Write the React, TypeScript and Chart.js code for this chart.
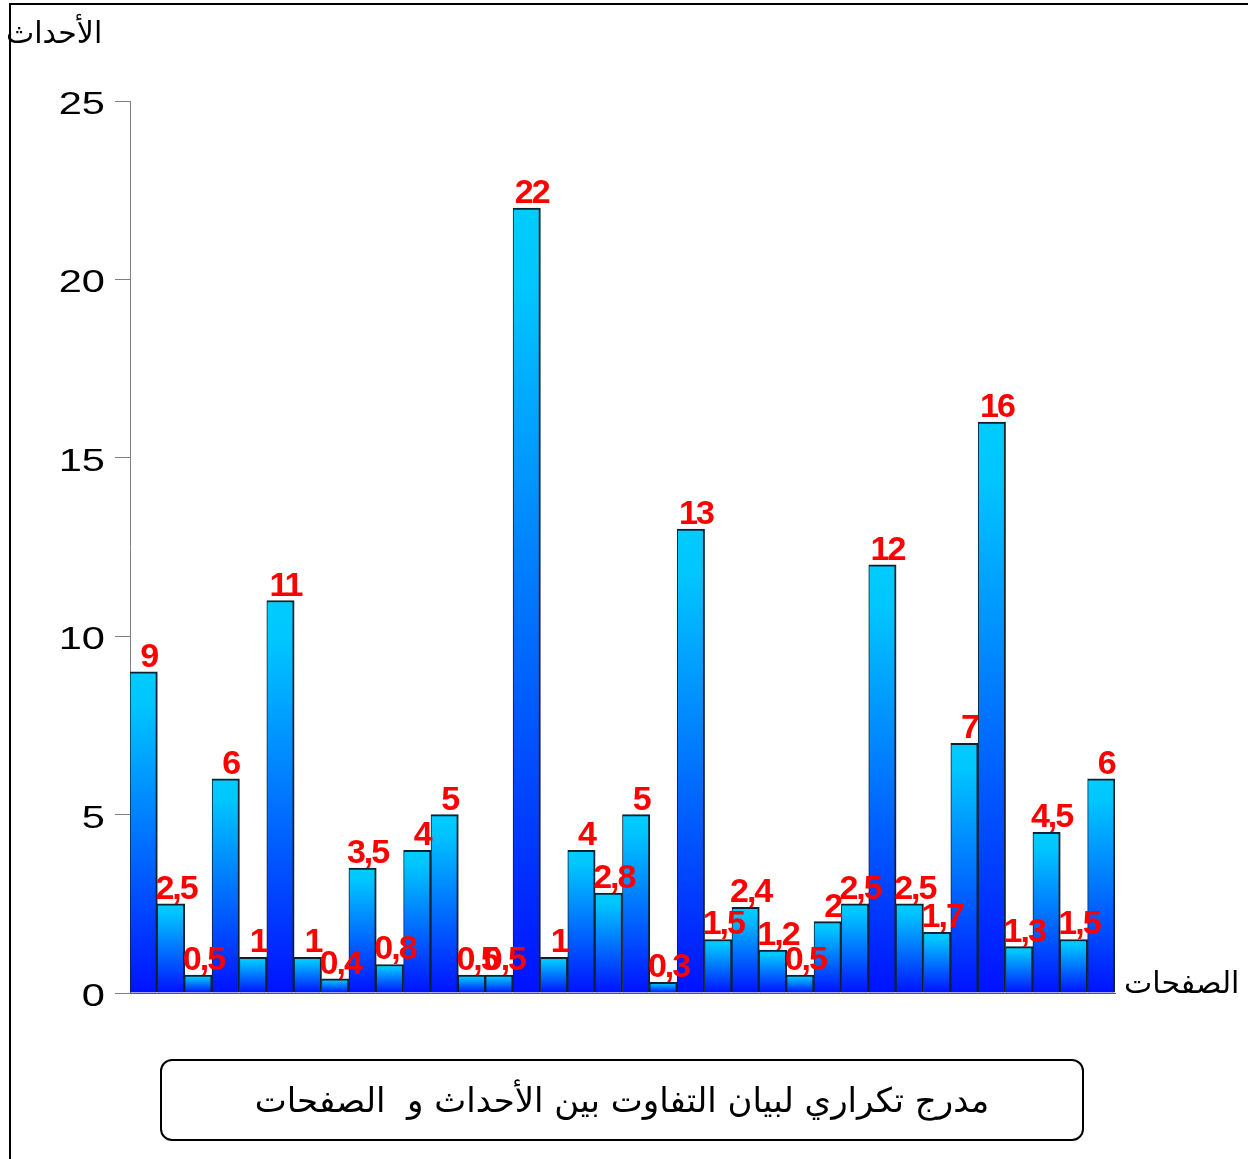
import React, { useEffect, useRef } from "react";
import { Chart, registerables } from "chart.js";

Chart.register(...registerables);

const categories = [
  "1", "2", "3", "4", "5", "6", "7", "8", "9", "10", "11", "12",
  "13", "14", "15", "16", "17", "18", "19", "20", "21", "22", "23", "24",
  "25", "26", "27", "28", "29", "30", "31", "32", "33", "34", "35", "36",
];
const values = [
  9, 2.5, 0.5, 6, 1, 11, 1, 0.4, 3.5, 0.8, 4, 5,
  0.5, 0.5, 22, 1, 4, 2.8, 5, 0.3, 13, 1.5, 2.4, 1.2,
  0.5, 2, 2.5, 12, 2.5, 1.7, 7, 16, 1.3, 4.5, 1.5, 6,
];
const yTicks = [0, 5, 10, 15, 20, 25];
const yTitle = "الأحداث";
const xTitle = "الصفحات";
const caption = "مدرج تكراري لبيان التفاوت بين الأحداث و  الصفحات";

const W = 1248;
const H = 1159;

export default function App() {
  const ref = useRef<HTMLCanvasElement | null>(null);

  useEffect(() => {
    const canvas = ref.current;
    if (!canvas) return;

    const customDraw = {
      id: "customDraw",
      afterDraw(chart: any) {
        const ctx = chart.ctx;
        const ys = chart.scales.y;
        // y tick labels (horizontally stretched like the original)
        ctx.save();
        ctx.font = '32px "Liberation Sans", Arial, sans-serif';
        ctx.fillStyle = "#000";
        ctx.textAlign = "right";
        ctx.textBaseline = "alphabetic";
        for (const v of yTicks) {
          const py = ys.getPixelForValue(v);
          ctx.save();
          ctx.translate(105, py + 13);
          ctx.scale(1.3, 1);
          ctx.fillText(String(v), 0, 0);
          ctx.restore();
        }
        ctx.restore();

        // value labels
        const meta = chart.getDatasetMeta(0);
        ctx.save();
        ctx.font = 'bold 34px "Liberation Sans", Arial, sans-serif';
        try {
          (ctx as any).letterSpacing = "-2px";
        } catch (e) {}
        ctx.fillStyle = "#FF0000";
        ctx.textAlign = "center";
        ctx.textBaseline = "alphabetic";
        meta.data.forEach((el: any, i: number) => {
          const label = String(values[i]).replace(".", ",");
          ctx.fillText(label, el.x + 5, el.y - 5);
        });
        ctx.restore();
      },
    };

    const chart = new Chart(canvas, {
      type: "bar",
      data: {
        labels: categories,
        datasets: [
          {
            data: values,
            backgroundColor: (c: any) => {
              const chart = c.chart;
              const area = chart.chartArea;
              if (!area || c.dataIndex === undefined) return "#0080ff";
              const ys = chart.scales.y;
              const v = values[c.dataIndex];
              const top = ys.getPixelForValue(v);
              const bottom = ys.getPixelForValue(0);
              const g = chart.ctx.createLinearGradient(0, top, 0, bottom);
              g.addColorStop(0, "#00CCFF");
              g.addColorStop(0.1, "#00C6FF");
              g.addColorStop(1, "#0012FF");
              return g;
            },
            borderColor: "#0b2233",
            borderWidth: { top: 2, right: 2, left: 1, bottom: 0 },
            borderSkipped: "bottom",
            categoryPercentage: 1,
            barPercentage: 1,
          },
        ],
      },
      options: {
        responsive: false,
        animation: false,
        devicePixelRatio: 1,
        layout: { padding: { left: 0, top: 101, right: 133, bottom: 166 } },
        plugins: {
          legend: { display: false },
          tooltip: { enabled: false },
          title: { display: false },
        },
        scales: {
          x: {
            type: "category",
            offset: true,
            grid: { display: false, drawTicks: false },
            ticks: { display: false },
            border: { display: true, color: "#555555", width: 1 },
            afterFit: (s: any) => {
              s.height = 0;
            },
          },
          y: {
            min: 0,
            max: 25,
            ticks: {
              stepSize: 5,
              color: "rgba(0,0,0,0)",
              font: { size: 32 },
            },
            grid: {
              drawOnChartArea: false,
              drawTicks: true,
              tickLength: 15,
              color: "#808080",
            },
            border: { display: true, color: "#808080", width: 1 },
            afterFit: (s: any) => {
              s.width = 130;
            },
          },
        },
      },
      plugins: [customDraw],
    } as any);

    return () => chart.destroy();
  }, []);

  return (
    <div
      style={{
        position: "fixed",
        left: 0,
        top: 0,
        width: W,
        height: H,
        background: "#fff",
        overflow: "hidden",
      }}
    >
      <div
        style={{
          position: "absolute",
          left: 9,
          top: 3,
          width: W,
          height: H,
          borderLeft: "2px solid #000",
          borderTop: "2px solid #000",
        }}
      />
      <canvas
        ref={ref}
        width={W}
        height={H}
        style={{ position: "absolute", left: 0, top: 0, width: W, height: H }}
      />
      <div
        dir="rtl"
        style={{
          position: "absolute",
          left: 6,
          top: 13,
          fontFamily: '"DejaVu Sans", sans-serif',
          fontSize: 30,
          color: "#000",
          whiteSpace: "nowrap",
          lineHeight: "40px",
        }}
      >
        {yTitle}
      </div>
      <div
        dir="rtl"
        style={{
          position: "absolute",
          left: 1124,
          top: 963,
          fontFamily: '"DejaVu Sans", sans-serif',
          fontSize: 30,
          color: "#000",
          whiteSpace: "nowrap",
          lineHeight: "40px",
        }}
      >
        {xTitle}
      </div>
      <div
        style={{
          position: "absolute",
          left: 160,
          top: 1059,
          width: 924,
          height: 82,
          boxSizing: "border-box",
          border: "2px solid #000",
          borderRadius: 12,
          display: "flex",
          alignItems: "center",
          justifyContent: "center",
        }}
      >
        <span
          dir="rtl"
          style={{
            fontFamily: '"DejaVu Sans", sans-serif',
            fontSize: 34,
            color: "#000",
            whiteSpace: "pre",
          }}
        >
          {caption}
        </span>
      </div>
    </div>
  );
}
